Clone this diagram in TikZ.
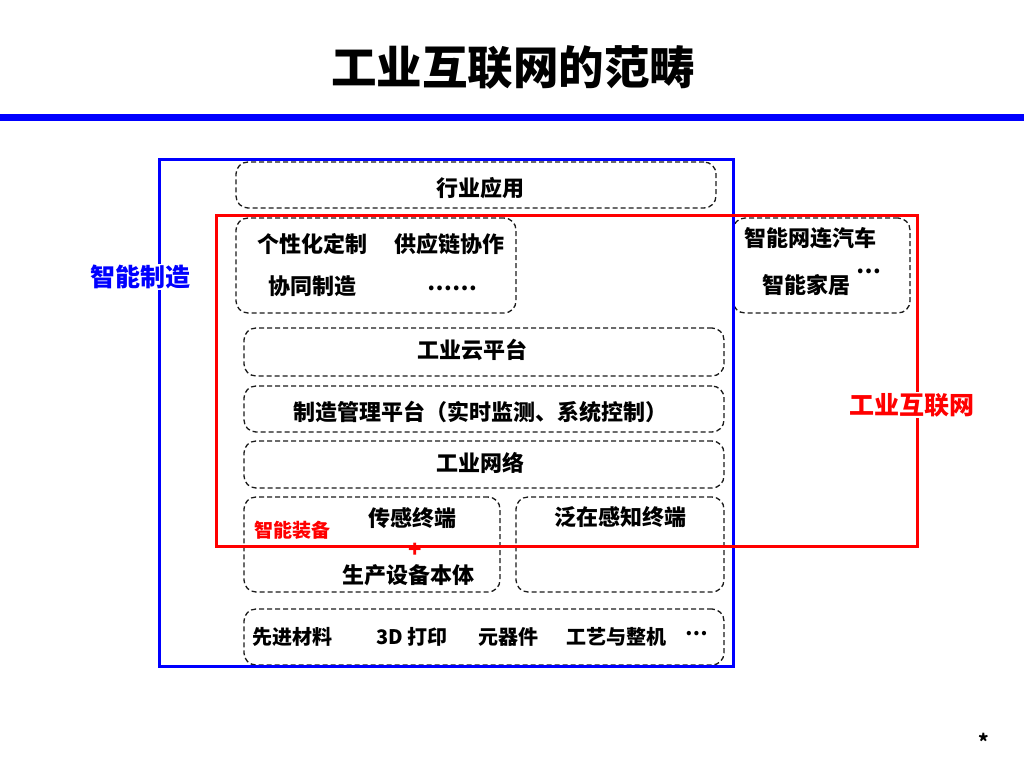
\documentclass[tikz,border=0pt]{standalone}
\usepackage{fontspec}
\setmainfont{Noto Sans CJK SC}
\usetikzlibrary{positioning}
\definecolor{scopeBlue}{HTML}{0000FF}
\definecolor{scopeRed}{HTML}{FF0000}
\definecolor{dashGray}{HTML}{1A1A1A}

\begin{document}
\begin{tikzpicture}[x=1pt, y=-1pt,
          layer/.style={draw=dashGray, dash pattern=on 5pt off 3pt, line width=1.3pt, rounded corners=12pt, inner sep=0pt},
          lbl/.style={font=\fontsize{22}{24}\selectfont\bfseries, inner sep=0pt},
          small/.style={font=\fontsize{20}{22}\selectfont\bfseries, inner sep=0pt},
          side/.style={font=\fontsize{25}{27}\selectfont\bfseries, fill=white, inner sep=1pt}]
        \useasboundingbox (0,0) rectangle (1024,768);
        \node[font=\fontsize{45.5}{48}\selectfont\bfseries] (title) at (513,68) {工业互联网的范畴};
        \draw[scopeBlue, line width=7pt] (0,117.5) -- (1024,117.5);
        % layers
        \node[layer, minimum width=480pt, minimum height=46pt] (app) at (476,185) {};
        \node[layer, minimum width=280pt, minimum height=95pt] (mode) at (376,265.5) {};
        \node[layer, minimum width=177pt, minimum height=95pt] (life) at (821.5,265.5) {};
        \node[layer, minimum width=480pt, minimum height=48pt] (cloud) at (484,352) {};
        \node[layer, minimum width=480pt, minimum height=46pt] (mgmt) at (484,409) {};
        \node[layer, minimum width=480pt, minimum height=47pt] (net) at (484,464.5) {};
        \node[layer, minimum width=256pt, minimum height=95pt] (equip) at (372,544.5) {};
        \node[layer, minimum width=208pt, minimum height=95pt] (sense) at (620,544.5) {};
        \node[layer, minimum width=480pt, minimum height=56pt] (base) at (484,637) {};
        % texts
        \node[lbl] (tApp) at (480,188) {行业应用};
        \node[lbl] (tCustom) at (312,244) {个性化定制};
        \node[lbl] (tChain) at (449,244) {供应链协作};
        \node[lbl] (tCoop) at (312,286) {协同制造};
        \node[lbl] (tDots) at (452,288) {……};
        \node[lbl] (tCar) at (810,238) {智能网连汽车};
        \node[lbl] (tHome) at (806,285) {智能家居};
        \node[lbl] (tMore) at (869,271) {…};
        \node[lbl] (tCloud) at (472,350) {工业云平台};
        \node[lbl] (tMgmt) at (480,412) {制造管理平台（实时监测、系统控制）};
        \node[lbl] (tNet) at (480,463) {工业网络};
        \node[lbl] (tSensor) at (412,518) {传感终端};
        \node[small, font=\fontsize{19}{21}\selectfont\bfseries, text=scopeRed] (tEquip) at (292,530) {智能装备};
        \node[lbl, text=scopeRed] (tPlus) at (415,550) {+};
        \node[lbl] (tBody) at (408,575) {生产设备本体};
        \node[lbl] (tAware) at (620,517) {泛在感知终端};
        \node[small] (tMat) at (292,637) {先进材料};
        \node[small] (tPrint) at (412,637) {3D 打印};
        \node[small] (tPart) at (508,637) {元器件};
        \node[small] (tCraft) at (616,637) {工艺与整机};
        \node[small] (tEtc) at (697,634) {…};
        % scopes
        \draw[scopeBlue, line width=3pt] (159,159) rectangle (733,666);
        \draw[scopeRed, line width=3pt] (216,215) rectangle (917,546);
        \node[side, text=scopeBlue] (smart) at (140,277) {智能制造};
        \node[side, text=scopeRed] (iiot) at (912,405) {工业互联网};
        \node[font=\fontsize{20}{22}\selectfont\bfseries] (star) at (984,741) {*};
      \end{tikzpicture}
\end{document}
